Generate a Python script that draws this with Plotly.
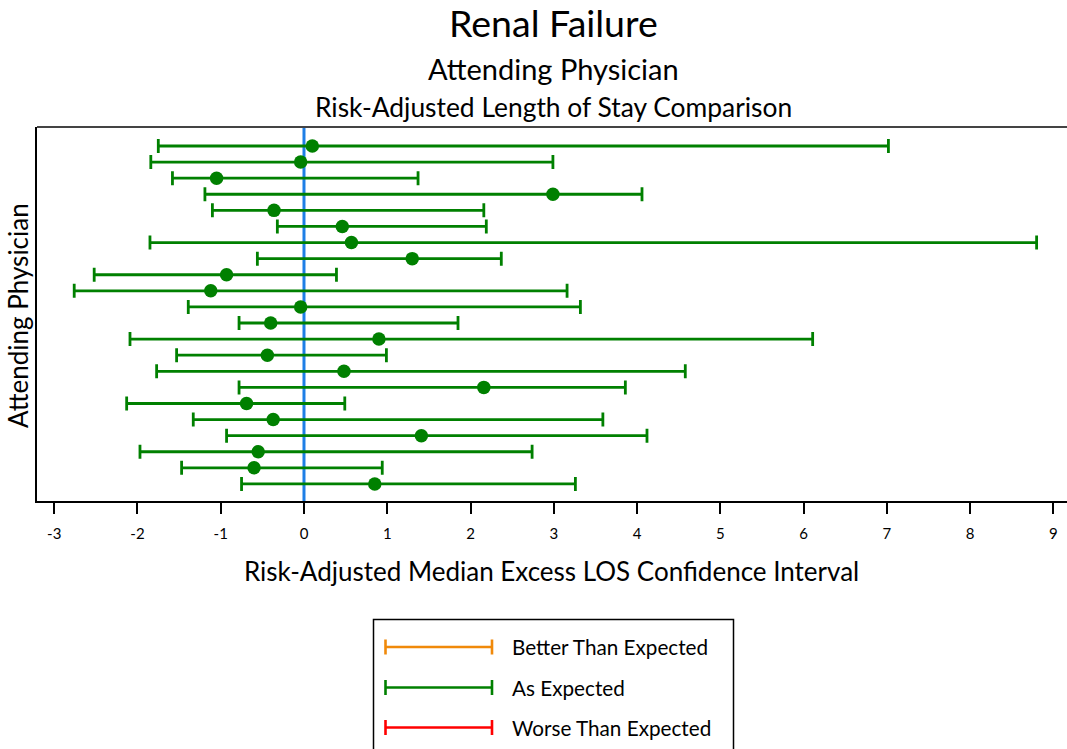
import plotly.graph_objects as go

# Risk-adjusted median excess LOS per attending physician, with CI bounds
physicians = [f"Physician {i + 1}" for i in range(22)]
median_excess = [0.10, -0.04, -1.05, 2.99, -0.36, 0.46, 0.57, 1.30, -0.93, -1.12, -0.04,
                 -0.40, 0.90, -0.44, 0.48, 2.16, -0.69, -0.37, 1.41, -0.55, -0.60, 0.85]
ci_lower = [-1.75, -1.84, -1.58, -1.19, -1.10, -0.32, -1.85, -0.56, -2.52, -2.76, -1.39,
            -0.78, -2.09, -1.53, -1.77, -0.78, -2.13, -1.33, -0.93, -1.97, -1.47, -0.75]
ci_upper = [7.02, 2.99, 1.37, 4.06, 2.16, 2.19, 8.80, 2.37, 0.39, 3.16, 3.32,
            1.85, 6.11, 0.99, 4.58, 3.86, 0.49, 3.59, 4.12, 2.74, 0.94, 3.26]
x_ticks = list(range(-3, 10))

legend_labels = ["Better Than Expected", "As Expected", "Worse Than Expected"]
legend_colors = ["#F0890A", "#008000", "#FF0000"]

GREEN = "#008000"
FONT = "Lato"

W, H = 1067, 749
L, R, T, B = 37, 0, 127, 248
PW, PH = W - L - R, H - T - B


def px(x):
    return (x - L) / PW


def py(y):
    return (H - B - y) / PH


def label(text, x, y, size, **kw):
    return dict(text=text, x=px(x), y=py(y), xref="paper", yref="paper",
                showarrow=False, yanchor="middle",
                font=dict(size=size, color="black", family=FONT), **kw)


rows = list(range(len(physicians)))
fig = go.Figure()
fig.add_trace(go.Scatter(
    x=median_excess,
    y=rows,
    mode="markers",
    text=physicians,
    marker=dict(color=GREEN, size=13.5, symbol="circle"),
    error_x=dict(
        type="data",
        symmetric=False,
        array=[u - m for u, m in zip(ci_upper, median_excess)],
        arrayminus=[m - lo for m, lo in zip(median_excess, ci_lower)],
        color=GREEN,
        thickness=2.8,
        width=7,
    ),
    showlegend=False,
    cliponaxis=False,
))

shapes = [
    # zero reference line
    dict(type="line", xref="x", yref="paper", x0=0, x1=0, y0=0, y1=1,
         line=dict(color="#1E7FE6", width=3), layer="below"),
    # top frame line
    dict(type="line", xref="paper", yref="paper", x0=0, x1=1, y0=1, y1=1,
         line=dict(color="#444444", width=2)),
    # legend box
    dict(type="rect", xref="paper", yref="paper",
         x0=px(373.5), x1=px(733.5), y0=py(760), y1=py(619.5),
         line=dict(color="black", width=1.5), fillcolor="rgba(0,0,0,0)"),
]

annotations = [
    label("Renal Failure", 553, 22, 37.5, xanchor="center"),
    label("Attending Physician", 553, 68, 29, xanchor="center"),
    label("Risk-Adjusted Length of Stay Comparison", 553, 107, 26.4, xanchor="center"),
    label("Risk-Adjusted Median Excess LOS Confidence Interval", 551.5, 571, 26,
          xanchor="center"),
    label("Attending Physician", 18, 316, 26, xanchor="center", textangle=-90),
]

legend_y = [647, 687.5, 727.5]
for text, color, ly in zip(legend_labels, legend_colors, legend_y):
    yp = py(ly)
    shapes.append(dict(type="line", xref="paper", yref="paper",
                       x0=px(385), x1=px(492.5), y0=yp, y1=yp,
                       line=dict(color=color, width=2.6)))
    for cx in (385.5, 492):
        shapes.append(dict(type="line", xref="paper", yref="paper",
                           x0=px(cx), x1=px(cx), y0=py(ly - 7.5), y1=py(ly + 7.5),
                           line=dict(color=color, width=2.6)))
    annotations.append(label(text, 510, ly, 20.7, xanchor="left"))

fig.update_layout(
    width=W,
    height=H,
    margin=dict(l=L, r=R, t=T, b=B, pad=0),
    paper_bgcolor="white",
    plot_bgcolor="white",
    font=dict(family=FONT, color="black"),
    shapes=shapes,
    annotations=annotations,
    xaxis=dict(
        range=[-3.207, 9.165],
        tickmode="array",
        tickvals=x_ticks,
        ticktext=[str(t) for t in x_ticks],
        ticks="outside",
        ticklen=11,
        tickwidth=1.5,
        tickcolor="black",
        ticklabelstandoff=7,
        tickfont=dict(size=15, family=FONT, color="black"),
        showgrid=False,
        zeroline=False,
        showline=True,
        linecolor="black",
        linewidth=2,
    ),
    yaxis=dict(
        range=[len(physicians) - 1 + 1.06, -1.18],
        showticklabels=False,
        ticks="",
        showgrid=False,
        zeroline=False,
        showline=True,
        linecolor="black",
        linewidth=2,
    ),
)

fig.write_html("out.html")
